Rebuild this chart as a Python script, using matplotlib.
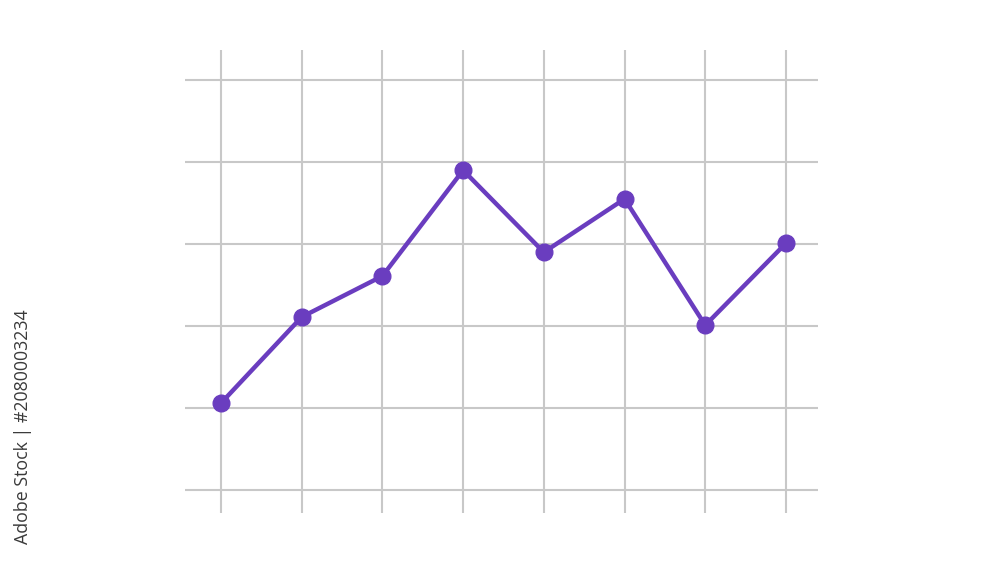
import matplotlib
matplotlib.use("Agg")
import matplotlib.pyplot as plt

# data
points = [0, 1, 2, 3, 4, 5, 6, 7]
values = [1.06, 2.11, 2.61, 3.90, 2.90, 3.55, 2.01, 3.01]
grid_y = [0, 1, 2, 3, 4, 5]

line_color = "#6a3dbf"
grid_color = "#c8c8c8"


def main():
    fig = plt.figure(figsize=(10, 5.62), dpi=100)
    fig.patch.set_facecolor("white")

    ax = fig.add_axes([0.185, 0.0872, 0.633, 0.8238])
    ax.set_xlim(-0.446, 7.397)
    ax.set_ylim(-0.28, 5.366)

    ax.set_xticks(points)
    ax.set_yticks(grid_y)
    ax.grid(True, color=grid_color, linewidth=1.5)
    ax.set_axisbelow(True)
    ax.tick_params(length=0, labelbottom=False, labelleft=False)
    for s in ax.spines.values():
        s.set_visible(False)

    ax.plot(points, values, color=line_color, linewidth=3.2,
            marker="o", markersize=12, solid_capstyle="round", zorder=3)

    # stock watermark on the left side
    fig.text(0.023, 0.24, "Adobe Stock | #2080003234", rotation=90,
             ha="center", va="center", fontsize=12.8, color="#3a3a3a",
             family="Open Sans")

    fig.savefig("out.png", dpi=100, facecolor="white")


if __name__ == "__main__":
    main()
